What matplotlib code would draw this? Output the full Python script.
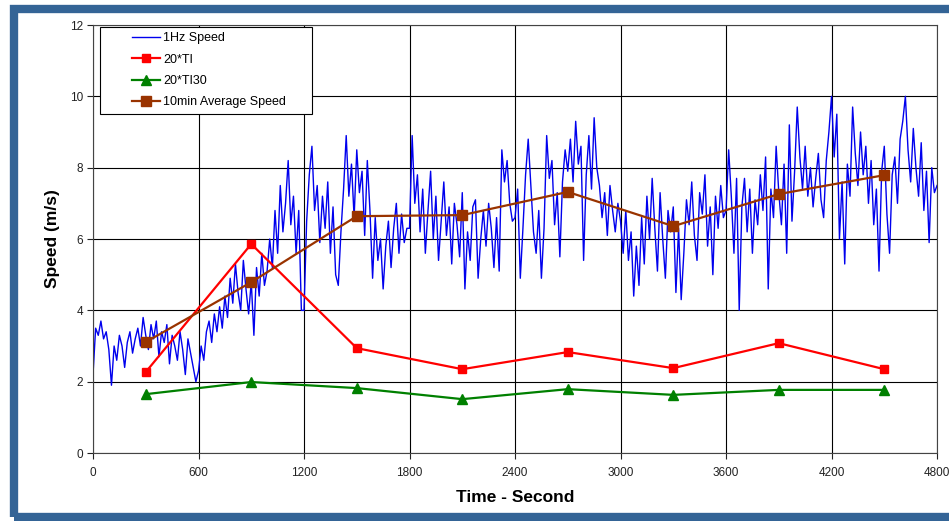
import numpy as np
import matplotlib
matplotlib.use("Agg")
import matplotlib.pyplot as plt
from matplotlib.lines import Line2D
from matplotlib.legend_handler import HandlerLine2D
from matplotlib.patches import Rectangle

plt.rcParams['font.family'] = ['Liberation Sans', 'DejaVu Sans']

# 1Hz speed every 15 s, one list per 10 min block
speed_0 = [2.2, 3.5, 3.3, 3.7, 3.2, 3.4, 2.9, 1.9, 3.0, 2.6,
           3.3, 3.0, 2.4, 3.1, 3.4, 2.8, 3.2, 3.5, 3.0, 3.8,
           3.3, 2.9, 3.6, 3.2, 3.7, 2.7, 3.4, 3.1, 3.6, 2.5,
           3.3, 3.0, 2.6, 3.4, 2.9, 2.2, 3.2, 2.8, 2.4, 2.0]
speed_1 = [2.3, 3.0, 2.6, 3.4, 3.7, 3.1, 3.9, 3.4, 4.1, 3.5,
           4.4, 3.8, 4.9, 4.2, 5.3, 4.5, 4.0, 5.4, 4.6, 3.9,
           4.8, 3.3, 5.2, 4.4, 5.6, 4.7, 5.1, 6.0, 5.2, 6.8,
           5.6, 7.5, 6.2, 7.0, 8.2, 6.4, 7.2, 5.6, 6.8, 4.0]
speed_2 = [4.0, 6.5, 7.8, 8.6, 6.8, 7.5, 5.9, 7.2, 6.3, 7.6,
           5.6, 6.9, 5.0, 4.7, 6.2, 7.4, 8.9, 7.2, 8.1, 6.6,
           8.5, 7.3, 7.9, 6.1, 8.2, 6.8, 4.9, 6.6, 5.4, 6.0,
           4.6, 5.8, 6.5, 5.2, 6.3, 7.0, 5.6, 6.7, 5.9, 6.3]
speed_3 = [6.3, 8.9, 7.0, 7.8, 6.2, 7.4, 5.6, 6.8, 7.9, 6.0,
           7.2, 5.4, 6.5, 7.6, 6.1, 6.9, 5.3, 7.0, 6.4, 5.5,
           7.3, 4.6, 6.2, 5.4, 6.9, 7.1, 4.9, 6.0, 6.8, 5.8,
           7.0, 6.3, 5.2, 6.6, 5.1, 8.5, 7.6, 8.2, 7.0, 6.5]
speed_4 = [6.6, 7.4, 4.9, 6.3, 7.8, 8.8, 7.5, 6.2, 5.6, 6.8,
           4.9, 6.3, 8.9, 7.7, 8.2, 6.4, 7.3, 5.5, 7.6, 8.5,
           7.9, 8.8, 7.6, 9.3, 8.1, 8.6, 5.4, 7.8, 8.9, 7.4,
           9.4, 8.0, 7.5, 6.6, 7.3, 6.1, 7.5, 6.8, 6.2, 7.0]
speed_5 = [6.5, 5.6, 6.8, 5.4, 6.2, 4.4, 5.8, 4.7, 6.6, 5.3,
           7.2, 6.0, 7.7, 6.3, 5.1, 7.3, 6.0, 4.9, 6.8, 6.2,
           6.9, 4.5, 6.3, 4.3, 5.6, 7.1, 6.4, 7.6, 6.1, 5.4,
           7.3, 6.7, 7.8, 5.8, 6.9, 5.0, 7.2, 6.3, 7.5, 6.6]
speed_6 = [6.8, 8.5, 7.2, 5.6, 7.7, 4.0, 6.9, 7.7, 6.2, 7.4,
           5.6, 7.1, 6.4, 7.8, 6.8, 8.3, 4.6, 7.4, 6.6, 8.6,
           7.3, 6.4, 8.1, 5.6, 9.2, 6.5, 7.9, 9.7, 8.3, 7.4,
           8.6, 7.2, 8.0, 6.9, 7.7, 8.4, 7.1, 6.6, 8.2, 9.0]
speed_7 = [10.0, 8.3, 9.5, 6.0, 7.6, 5.3, 8.1, 7.2, 9.7, 8.4,
           7.5, 9.0, 7.8, 8.6, 7.0, 8.2, 6.4, 7.4, 5.1, 7.9,
           8.6, 6.7, 5.6, 7.8, 8.3, 7.0, 8.8, 9.3, 10.0, 8.5,
           7.6, 9.1, 8.0, 7.2, 8.7, 6.8, 7.9, 5.9, 8.0, 7.3,
           7.5]
speed = speed_0 + speed_1 + speed_2 + speed_3 + speed_4 + speed_5 + speed_6 + speed_7
t = np.arange(len(speed)) * 15

# 10 min values, plotted at block centres
t_mid = [300, 900, 1500, 2100, 2700, 3300, 3900, 4500]
ti_20 = [2.27, 5.86, 2.94, 2.35, 2.83, 2.38, 3.08, 2.35]
ti30_20 = [1.65, 1.99, 1.82, 1.51, 1.79, 1.63, 1.77, 1.77]
avg_speed = [3.11, 4.79, 6.64, 6.67, 7.32, 6.36, 7.26, 7.79]

fig = plt.figure(figsize=(9.49, 5.21), dpi=100)
ax = fig.add_axes([0.098, 0.1305, 0.8894, 0.8215])

ax.plot(t, speed, color='#0000ee', lw=1.0, label='1Hz Speed')
ax.plot(t_mid, ti_20, color='#ff0000', lw=1.6, marker='s', ms=6, label='20*TI')
ax.plot(t_mid, ti30_20, color='#008000', lw=1.6, marker='^', ms=6.5, label='20*TI30')
ax.plot(t_mid, avg_speed, color='#993300', lw=1.6, marker='s', ms=7.5, label='10min Average Speed')

ax.set_xlim(0, 4800)
ax.set_ylim(0, 12)
ax.set_xticks(np.arange(0, 4801, 600))
ax.set_yticks(np.arange(0, 13, 2))
ax.grid(True, color='black', lw=0.8)
ax.set_axisbelow(True)
for s in ax.spines.values():
    s.set_color('#444444')
    s.set_linewidth(0.8)
ax.tick_params(direction='out', length=4, width=0.8, labelsize=8.5, colors='#222222')
ax.tick_params(axis='x', pad=6)
ax.tick_params(axis='y', pad=3)

ax.set_xlabel('Time - Second', fontsize=12.5, fontweight='bold', labelpad=8)
ax.set_ylabel('Speed (m/s)', fontsize=12.5, fontweight='bold', labelpad=7)

leg = ax.legend(loc='upper left', bbox_to_anchor=(0.0083, 0.0, 0.251, 0.996), mode='expand',
                borderaxespad=0, fontsize=9, handlelength=4.35, handletextpad=0.25,
                labelspacing=0.75, borderpad=0.45, fancybox=False, framealpha=1,
                edgecolor='black', handler_map={Line2D: HandlerLine2D(xpad=2.1)})
leg.get_frame().set_linewidth(0.8)

# blue frame round the picture
fig.patches.append(Rectangle((14 / 949, 4.5 / 521), 1.2, 508 / 521, transform=fig.transFigure,
                             fill=False, edgecolor='#346496', lw=6, figure=fig))

fig.savefig('out.png', dpi=100)
